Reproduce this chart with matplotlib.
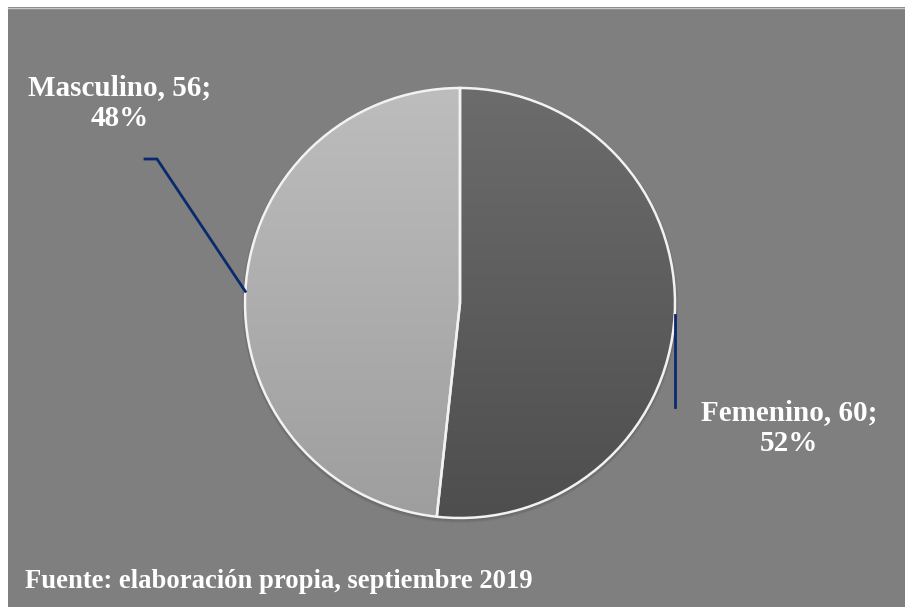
import numpy as np
import matplotlib
matplotlib.use("Agg")
import matplotlib.pyplot as plt
from matplotlib.patches import Rectangle

labels = ["Femenino", "Masculino"]
counts = [60, 56]
top_colors = ["#6c6c6c", "#bdbdbd"]
bottom_colors = ["#4e4e4e", "#9e9e9e"]
source_note = "Fuente: elaboración propia, septiembre 2019"

W, H = 905, 607
fig = plt.figure(figsize=(W / 100, H / 100), dpi=100)
fig.patch.set_facecolor("white")

# gray chart area with a thin white frame on top and left
bg = fig.add_axes([0, 0, 1, 1])
bg.set_xlim(0, W)
bg.set_ylim(H, 0)
bg.axis("off")
bg.add_patch(Rectangle((8, 7), W - 8, H - 7, facecolor="#7f7f7f", edgecolor="none"))
bg.plot([8, W], [7.5, 7.5], color="#c8c8c8", lw=1)

# pie axes: radius 215 px centred at (460, 303)
cx, cy, r = 460, 303, 215
ax = fig.add_axes([(cx - r) / W, (H - cy - r) / H, 2 * r / W, 2 * r / H])
ax.set_xlim(-1, 1)
ax.set_ylim(-1, 1)
ax.set_aspect("equal")
ax.axis("off")

# faint shadow just below the pie
for k in range(5):
    sh = plt.Circle((0.0, -0.008), 1.0 + 0.003 * k, color="black",
                    alpha=0.025, zorder=0, clip_on=False)
    ax.add_patch(sh)

wedges, _ = ax.pie(counts, startangle=90, counterclock=False, radius=1,
                   wedgeprops=dict(edgecolor="#f2f2f2", linewidth=1.8))

# vertical gradient fill inside each wedge
yy = np.linspace(1, -1, 256)[:, None]
for w, c0, c1 in zip(wedges, top_colors, bottom_colors):
    a = np.array(matplotlib.colors.to_rgb(c0))
    b = np.array(matplotlib.colors.to_rgb(c1))
    t = (1 - yy) / 2
    img = a[None, None, :] * (1 - t[..., None]) + b[None, None, :] * t[..., None]
    img = np.repeat(img, 4, axis=1)
    im = ax.imshow(img, extent=(-1, 1, -1, 1), zorder=1.5, aspect="auto")
    im.set_clip_path(w)
    w.set_facecolor("none")
    w.set_zorder(2)

ax.set_xlim(-1, 1)
ax.set_ylim(-1, 1)

total = sum(counts)
line_color = "#0b2a6e"
txt = dict(color="white", fontfamily="Liberation Serif", fontweight="bold",
           fontsize=21, ha="center", va="center", linespacing=1.17)

def px(x, y):
    return ((x - cx) / r, (cy - y) / r)

for w, lab, n in zip(wedges, labels, counts):
    mid = np.deg2rad((w.theta1 + w.theta2) / 2)
    ex, ey = np.cos(mid), np.sin(mid)
    pct = round(100 * n / total)
    text = f"{lab}, {n};\n{pct}%"
    if ex > 0:
        p2 = px(675, 407)
        ax.plot([ex, ex], [ey, p2[1]], color=line_color, lw=2, clip_on=False, zorder=3)
        tx, ty = px(789, 428)
    else:
        p2 = px(157, 159)
        p3 = px(145, 159)
        ax.plot([ex, p2[0], p3[0]], [ey, p2[1], p3[1]], color=line_color, lw=2,
                clip_on=False, zorder=3, solid_joinstyle="miter")
        tx, ty = px(120, 103)
    ax.text(tx, ty, text, clip_on=False, **txt)

fig.text(25 / W, 1 - 581 / H, source_note, color="white", fontfamily="Liberation Serif",
         fontweight="bold", fontsize=19.2, ha="left", va="center")

fig.savefig("out.png", dpi=100, facecolor=fig.get_facecolor())
